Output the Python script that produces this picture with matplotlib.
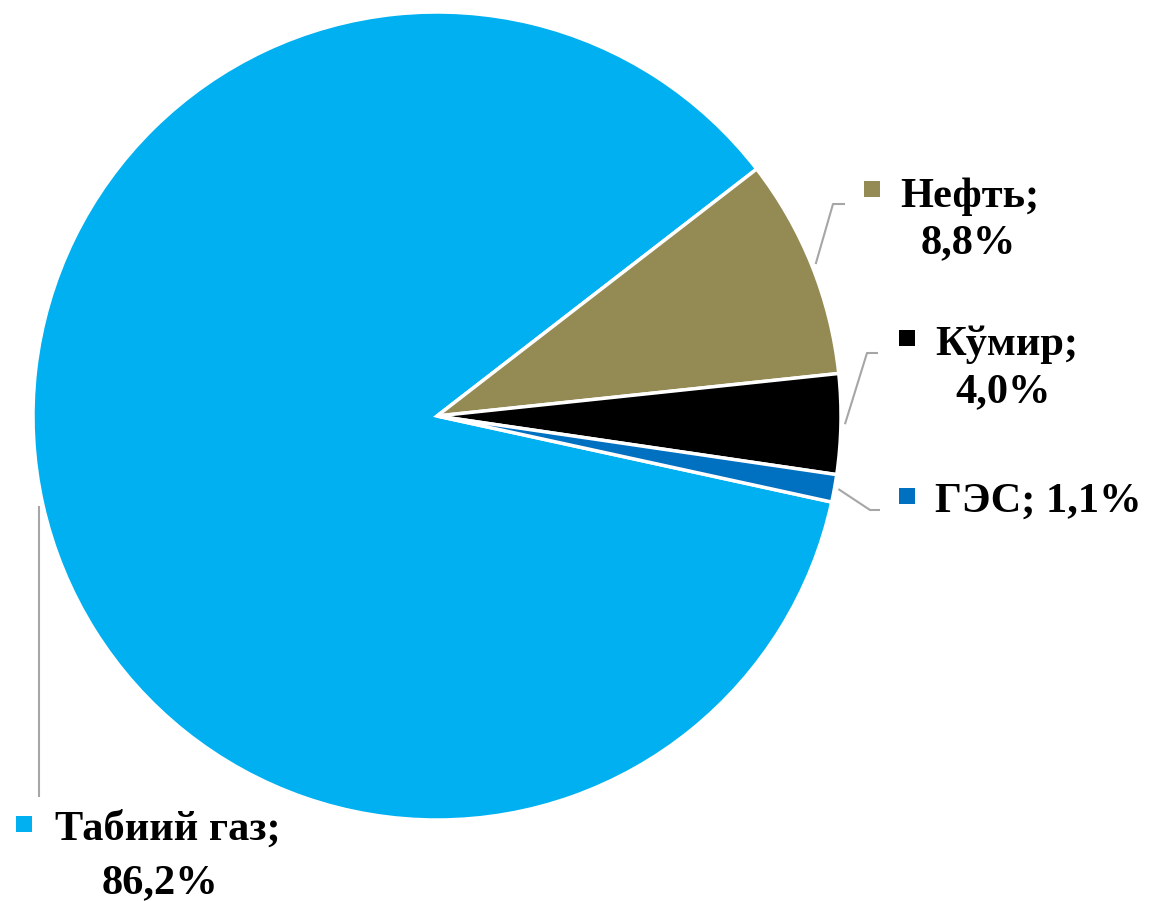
import numpy as np
import matplotlib
matplotlib.use("Agg")
import matplotlib.pyplot as plt
from matplotlib.patches import Rectangle

# Data
categories = ["Табиий газ", "Нефть", "Кўмир", "ГЭС"]
values = [86.2, 8.8, 4.0, 1.1]
value_labels = ["86,2%", "8,8%", "4,0%", "1,1%"]
colors = ["#00B0F0", "#948A54", "#000000", "#0070C0"]

W, H = 1152, 901
fig = plt.figure(figsize=(W / 100, H / 100), dpi=100)
ax = fig.add_axes([0, 0, 1, 1])

cx, cy, R = 437, H - 416, 404
wedges, _ = ax.pie(values, colors=colors, startangle=-12.3, counterclock=False,
                   center=(cx, cy), radius=R, frame=True,
                   wedgeprops=dict(edgecolor="white", linewidth=2.5))
ax.set_xlim(0, W)
ax.set_ylim(0, H)
ax.set_aspect("equal")
ax.axis("off")

font = dict(family="Liberation Serif", weight="bold", size=30.5, color="black")

def py(y):
    return H - y

layout = {
    "Табиий газ": dict(sq=(24, 824), t1=(55, 840), t2=(160, 893), elbow=[(42, 797)], two=True),
    "Нефть": dict(sq=(872, 189), t1=(900, 207), t2=(968, 253), elbow=[(833, 204), (845, 204)], two=True),
    "Кўмир": dict(sq=(907, 338), t1=(935, 355), t2=(1003, 402), elbow=[(867, 353), (878, 353)], two=True),
    "ГЭС": dict(sq=(907, 496), t1=(935, 512), t2=None, elbow=[(870, 510), (880, 510)], two=False),
}

sq = 16
for w, cat, lab, col in zip(wedges, categories, value_labels, colors):
    L = layout[cat]
    mid = np.deg2rad((w.theta1 + w.theta2) / 2)
    r0 = R * 1.01
    x0, y0 = cx + r0 * np.cos(mid), cy + r0 * np.sin(mid)
    if cat == "Табиий газ":
        pts = [(x0, y0), (x0, py(L["elbow"][0][1]))]
    else:
        pts = [(x0, y0)] + [(x, py(y)) for x, y in L["elbow"]]
    xs, ys = zip(*pts)
    ax.plot(xs, ys, color="#A6A6A6", lw=1.5, solid_capstyle="butt", zorder=1)
    sx, sy = L["sq"]
    ax.add_patch(Rectangle((sx - sq / 2, py(sy) - sq / 2), sq, sq, color=col, lw=0, zorder=3))
    if L["two"]:
        ax.text(L["t1"][0], py(L["t1"][1]), cat + ";", ha="left", va="baseline", **font)
        ax.text(L["t2"][0], py(L["t2"][1]), lab, ha="center", va="baseline", **font)
    else:
        ax.text(L["t1"][0], py(L["t1"][1]), cat + "; " + lab, ha="left", va="baseline", **font)

fig.savefig("out.png", dpi=100, facecolor="white")
